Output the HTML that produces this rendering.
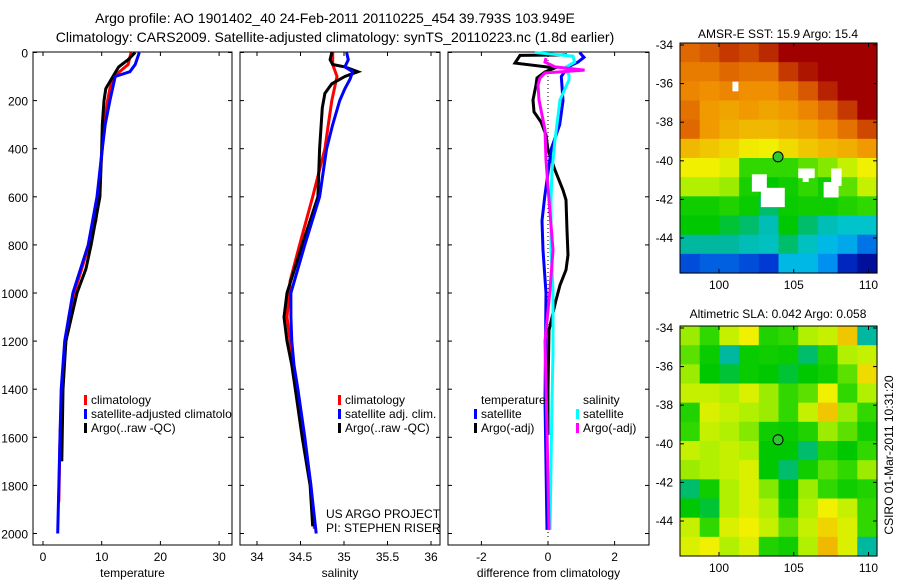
<!DOCTYPE html>
<html><head><meta charset="utf-8">
<style>
html,body{margin:0;padding:0;background:#fff;}
svg{display:block;font-family:"Liberation Sans",sans-serif;}
text{fill:#000;}
</style></head>
<body>
<svg id="fig" width="900" height="580" viewBox="0 0 900 580" xmlns="http://www.w3.org/2000/svg">
<text x="335" y="23" font-size="14" text-anchor="middle">Argo profile: AO 1901402_40 24-Feb-2011 20110225_454 39.793S 103.949E</text>
<text x="335" y="42" font-size="14" text-anchor="middle">Climatology: CARS2009. Satellite-adjusted climatology: synTS_20110223.nc (1.8d earlier)</text>
<text x="778" y="38" font-size="12" text-anchor="middle">AMSR-E SST: 15.9 Argo: 15.4</text>
<text x="778" y="318" font-size="12" text-anchor="middle">Altimetric SLA: 0.042 Argo: 0.058</text>
<text transform="translate(893,455) rotate(-90)" font-size="12" text-anchor="middle">CSIRO 01-Mar-2011 10:31:20</text>
<text x="326" y="518" font-size="12">US ARGO PROJECT</text>
<text x="326" y="532" font-size="12">PI: STEPHEN RISER</text>
<g id="g"></g>
</svg>
<script>
// ---------- Data ----------
const tClimP=[0,50,100,150,200,300,400,600,700,800,900,1000,1100,1200,1400,1600,1870];
const tClimV=[15.0,14.5,12.1,11.4,11.0,10.4,10.1,9.4,9.0,7.8,6.6,5.3,4.4,3.9,3.2,2.9,2.7];
const tSatP=[0,50,80,100,200,300,400,600,800,1000,1200,1400,1600,2000];
const tSatV=[16.4,15.7,14.8,12.3,11.4,10.6,10.1,9.2,7.7,5.1,3.7,3.1,2.9,2.5];
const tArgoP=[0,30,60,100,150,200,300,400,600,800,900,1000,1200,1400,1700];
const tArgoV=[15.7,14.5,12.9,11.9,10.7,10.4,10.1,10.0,9.7,8.2,7.3,5.8,3.9,3.4,3.2];

const sClimP=[0,50,100,200,300,400,600,800,950,1000,1100,1200,1300,1400,1600,1800,1980];
const sClimV=[34.87,34.87,34.92,34.86,34.82,34.78,34.64,34.49,34.38,34.37,34.345,34.38,34.41,34.46,34.54,34.62,34.66];
const sSatP=[0,30,60,80,110,150,200,300,400,600,800,1000,1100,1200,1300,1400,1600,1800,2000];
const sSatV=[35.03,35.05,35.01,35.10,35.07,35.01,34.95,34.87,34.80,34.72,34.55,34.39,34.39,34.40,34.425,34.47,34.55,34.62,34.68];
const sArgoP=[0,30,50,60,80,100,130,170,230,400,600,800,1000,1100,1200,1300,1400,1600,1800,1970];
const sArgoV=[34.86,34.84,34.87,35.01,35.16,35.01,34.86,34.78,34.75,34.72,34.70,34.52,34.345,34.31,34.345,34.40,34.44,34.52,34.61,34.64];

const dTSatP=[0,20,40,60,100,200,300,400,500,600,700,821,1000,1445,1985];
const dTSatV=[0.95,1.08,0.9,0.6,0.4,0.45,0.35,0.1,0,-0.1,-0.18,-0.15,-0.06,-0.09,-0.03];
const dTArgoP=[10,12,44,64,81,106,135,197,247,289,343,405,489,572,613,738,842,904,967,1030,1154,1400,1590];
const dTArgoV=[0.57,-0.84,-0.99,0.21,-0.09,-0.33,-0.36,-0.45,-0.42,-0.21,-0.06,0,0.21,0.45,0.54,0.57,0.60,0.54,0.36,0.24,0.03,0,0];
const dSSatP=[0,15,40,64,93,114,197,364,489,613,821,988,1250,1445,1985];
const dSSatV=[-0.4,0.75,0.8,0.5,0.63,0.63,0.36,0.21,0.12,0.09,0.09,0.15,0.15,0.12,0.06];
const dSArgoP=[23,40,60,73,85,106,135,197,322,447,613,821,988,1200,1570,1985];
const dSArgoV=[-0.06,-0.09,0.21,1.1,-0.09,-0.24,-0.3,-0.27,-0.09,-0.06,0.03,0.15,0.06,-0.09,-0.03,0.03];

const sstGrid=[
[.86,.88,.92,.90,.94,1,1,1,1,1],
[.82,.82,.86,.84,.84,.92,.97,1,1,1],
[.80,.78,.80,.78,.78,.82,.88,.95,1,1],
[.84,.76,.74,.76,.74,.76,.80,.86,.92,1],
[.86,.76,.72,.70,.70,.72,.74,.78,.84,.90],
[.70,.68,.66,.63,.62,.65,.68,.70,.72,.76],
[.62,.62,.60,.50,.50,.50,.52,.54,.58,.62],
[.56,.56,.55,.47,.44,.46,.50,.46,.52,.58],
[.46,.46,.48,.45,.40,.45,.46,.46,.48,.50],
[.44,.44,.42,.40,.36,.44,.40,.36,.34,.34],
[.38,.38,.38,.36,.35,.40,.35,.30,.28,.22],
[.18,.20,.20,.18,.16,.30,.30,.25,.12,.05]];
const slaGrid=[
[.55,.50,.58,.62,.48,.50,.56,.58,.68,.38],
[.52,.45,.38,.45,.46,.45,.40,.48,.56,.58],
[.55,.44,.42,.45,.44,.42,.44,.46,.52,.65],
[.58,.58,.56,.60,.55,.50,.52,.62,.50,.56],
[.48,.60,.58,.56,.55,.50,.58,.68,.55,.50],
[.50,.58,.56,.54,.46,.45,.48,.55,.52,.46],
[.58,.56,.58,.56,.44,.44,.40,.48,.44,.50],
[.55,.56,.58,.60,.44,.40,.46,.52,.50,.55],
[.40,.46,.56,.60,.54,.44,.55,.50,.46,.48],
[.44,.42,.56,.60,.56,.46,.56,.62,.58,.50],
[.58,.50,.60,.62,.58,.52,.58,.66,.60,.50],
[.60,.62,.56,.60,.48,.46,.56,.70,.60,.38]];
// missing-data boxes [lon0, lat0, lon1, lat1]
const sstMissing=[[100.9,-35.9,101.3,-36.4],[102.2,-40.7,103.2,-41.6],[102.8,-41.4,104.4,-42.4],[105.3,-40.4,106.4,-40.9],[105.6,-40.8,106.0,-41.1],[107.5,-40.4,108.2,-41.3],[107.0,-41.1,108.0,-41.9]];
const floatLon=103.949, floatLat=-39.793;

const depthTicks=[0,200,400,600,800,1000,1200,1400,1600,1800,2000];
const tempTicks=[0,10,20,30];
const salTicks=[34,34.5,35,35.5,36];
const salTickLabels=["34","34.5","35","35.5","36"];
const diffTicks=[-2,0,2];
const lonTicks=[100,105,110];
const latTicks=[-34,-36,-38,-40,-42,-44];

// ---------- Helpers ----------
const NS="http://www.w3.org/2000/svg";
const G=document.getElementById('g');
function mk(tag,attrs,parent){const e=document.createElementNS(NS,tag);for(const k in attrs)e.setAttribute(k,attrs[k]);(parent||G).appendChild(e);return e;}
const py=p=>52.5+p*0.2405;
const panels=[
 {x0:33,x1:232,sx:v=>43+v*5.87,ticks:tempTicks,labels:tempTicks.map(String),xl:"temperature",name:"temperature-panel"},
 {x0:240,x1:440,sx:v=>257+(v-34)*87,ticks:salTicks,labels:salTickLabels,xl:"salinity",name:"salinity-panel"},
 {x0:448,x1:649,sx:v=>548+v*33.3,ticks:diffTicks,labels:diffTicks.map(String),xl:"difference from climatology",name:"difference-panel"}];
const Y0=52,Y1=545;
panels.forEach((P,i)=>{
  const g=mk('g',{});
  
  
  mk('rect',{x:P.x0,y:Y0,width:P.x1-P.x0,height:Y1-Y0,fill:'none',stroke:'#000','stroke-width':1},g);
  P.ticks.forEach((t,j)=>{const x=P.sx(t);
    mk('line',{x1:x,x2:x,y1:Y1,y2:Y1-4,stroke:'#000'},g);
    mk('line',{x1:x,x2:x,y1:Y0,y2:Y0+4,stroke:'#000'},g);
    const tx=mk('text',{x:x,y:561,'font-size':12,'text-anchor':'middle'},g);tx.textContent=P.labels[j];
    
    
  });
  depthTicks.forEach(d=>{const y=py(d);
    mk('line',{x1:P.x0,x2:P.x0+4,y1:y,y2:y,stroke:'#000'},g);
    mk('line',{x1:P.x1,x2:P.x1-4,y1:y,y2:y,stroke:'#000'},g);
    if(i===0){const tx=mk('text',{x:28,y:y+5,'font-size':12,'text-anchor':'end'},g);tx.textContent=d;
      
      }
  });
  const xl=mk('text',{x:(P.x0+P.x1)/2,y:577,'font-size':12,'text-anchor':'middle'},g);xl.textContent=P.xl;
  
  
});
function series(P,ps,vs,color,w,name){
  const pts=ps.map((p,k)=>P.sx(vs[k]).toFixed(1)+','+py(p).toFixed(1)).join(' ');
  const l=mk('polyline',{points:pts,fill:'none',stroke:color,'stroke-width':w,'stroke-linejoin':'miter'});
  
  
}
const [PT,PS,PD]=panels;
series(PT,tClimP,tClimV,'#f00',3,'temp-climatology-line');
series(PT,tArgoP,tArgoV,'#000',3,'temp-argo-line');
series(PT,tSatP,tSatV,'#00f',3,'temp-satellite-line');
series(PS,sClimP,sClimV,'#f00',3,'sal-climatology-line');
series(PS,sArgoP,sArgoV,'#000',3,'sal-argo-line');
series(PS,sSatP,sSatV,'#00f',3,'sal-satellite-line');
mk('line',{x1:PD.sx(0),x2:PD.sx(0),y1:Y0,y2:540,stroke:'#000','stroke-dasharray':'1,3'});
series(PD,dTArgoP,dTArgoV,'#000',3,'diff-temp-argo-line');
series(PD,dTSatP,dTSatV,'#00f',3,'diff-temp-satellite-line');
series(PD,dSSatP,dSSatV,'#0ff',3,'diff-sal-satellite-line');
series(PD,dSArgoP,dSArgoV,'#f0f',3,'diff-sal-argo-line');

function legend(x,y,items){
  items.forEach((it,k)=>{
    const g=mk('g',{});
    
    
    const yy=y+k*14;
    if(it[1]) mk('rect',{x:x,y:yy-9,width:3,height:10,fill:it[1]},g);
    const t=mk('text',{x:x+7,y:yy,'font-size':12},g);t.textContent=it[0];
  });
}
legend(84,404,[["climatology","#f00"],["satellite-adjusted climatolo","#00f"],["Argo(..raw -QC)","#000"]]);
legend(338,404,[["climatology","#f00"],["satellite adj. clim.","#00f"],["Argo(..raw -QC)","#000"]]);
legend(474,404,[["temperature",null],["satellite","#00f"],["Argo(-adj)","#000"]]);
legend(576,404,[["salinity",null],["satellite","#0ff"],["Argo(-adj)","#f0f"]]);

// ---------- Maps ----------
const cstops=[[0,[0,0,128]],[.15,[0,48,208]],[.25,[0,144,240]],[.32,[0,200,224]],[.38,[0,184,160]],[.44,[0,200,0]],[.5,[48,216,0]],[.56,[176,240,0]],[.62,[240,240,0]],[.7,[240,184,0]],[.78,[240,144,0]],[.86,[224,104,0]],[.93,[192,48,0]],[1,[160,0,0]]];
function cmap(v){for(let i=1;i<cstops.length;i++){if(v<=cstops[i][0]){const a=cstops[i-1],b=cstops[i],f=(v-a[0])/(b[0]-a[0]);return 'rgb('+a[1].map((c,j)=>Math.round(c+(b[1][j]-c)*f)).join(',')+')';}}return 'rgb(160,0,0)';}
function drawMap(top,grid,missing,name){
  const X0=680,X1=877,Y1m=top+230;
  const lx=lon=>719+(lon-100)*14.95;
  const ly=lat=>top+2+(-34-lat)*19.3;
  const g=mk('g',{});
  
  
  const rows=grid.length,cols=grid[0].length;
  const cw=(X1-X0)/cols,ch=230/rows;
  grid.forEach((row,r)=>row.forEach((v,c)=>{
    const cell=mk('rect',{x:(X0+c*cw).toFixed(2),y:(top+r*ch).toFixed(2),width:(cw+0.6).toFixed(2),height:(ch+0.6).toFixed(2),fill:cmap(v)},g);
    
    
  }));
  missing.forEach(m=>{const r=mk('rect',{x:lx(m[0]),y:ly(m[1]),width:lx(m[2])-lx(m[0]),height:ly(m[3])-ly(m[1]),fill:'#fff'},g);
    
    });
  mk('rect',{x:X0,y:top,width:X1-X0,height:230,fill:'none',stroke:'#000'},g);
  lonTicks.forEach(l=>{const x=lx(l);
    mk('line',{x1:x,x2:x,y1:Y1m,y2:Y1m-4,stroke:'#000'},g);
    mk('line',{x1:x,x2:x,y1:top,y2:top+4,stroke:'#000'},g);
    const t=mk('text',{x:x,y:Y1m+16,'font-size':12,'text-anchor':'middle'},g);t.textContent=l;
    
    });
  latTicks.forEach(l=>{const y=ly(l);
    mk('line',{x1:X0,x2:X0+4,y1:y,y2:y,stroke:'#000'},g);
    mk('line',{x1:X1,x2:X1-4,y1:y,y2:y,stroke:'#000'},g);
    const t=mk('text',{x:673,y:y+4,'font-size':12,'text-anchor':'end'},g);t.textContent=l;
    
    });
  const c=mk('circle',{cx:lx(floatLon),cy:ly(floatLat),r:5,fill:'#30c830',stroke:'#000','stroke-width':1},g);
  
  
}
drawMap(43,sstGrid,sstMissing,'sst-map');
drawMap(326,slaGrid,[],'sla-map');
</script>
</body></html>
